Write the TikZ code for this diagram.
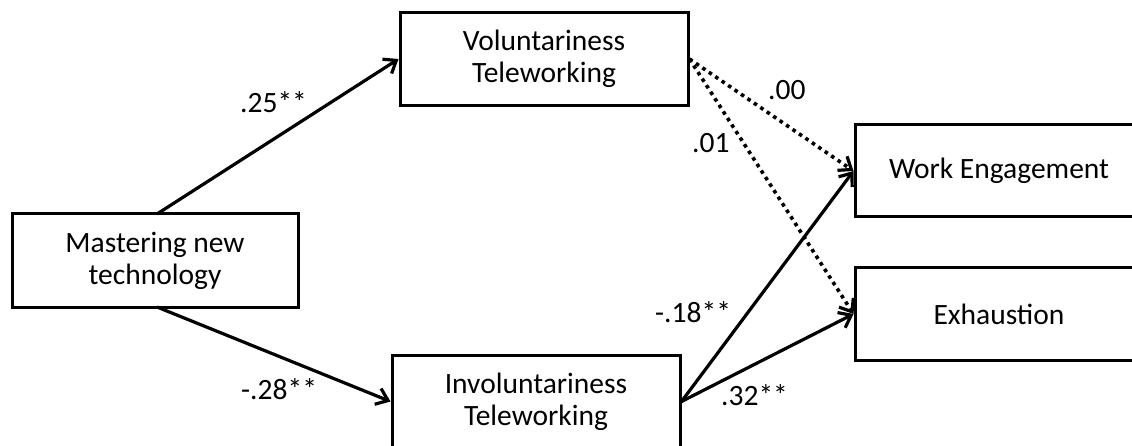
\documentclass[tikz,border=0pt]{standalone}
\usepackage{fontspec}
\setmainfont{Carlito}
\usetikzlibrary{arrows.meta}
\begin{document}
\begin{tikzpicture}[x=1pt,y=-1pt,
  box/.style={draw=black, line width=3pt, minimum width=288pt, minimum height=93pt,
    align=center, inner sep=0pt, font=\fontsize{29.5}{32}\selectfont},
  lbl/.style={anchor=base west, inner sep=0pt, font=\fontsize{29.5}{32}\selectfont},
  conn/.style={line width=3.2pt, -{Straight Barb[length=11pt,width=17pt,line width=3.2pt]}},
  dotconn/.style={line width=3.6pt, dash pattern=on 3.6pt off 4.2pt,
    -{Straight Barb[length=11pt,width=17pt,line width=3.2pt]}}]
\useasboundingbox (0,0) rectangle (1132,446);
\clip (0,0) rectangle (1132,446);
\node[box, minimum width=286pt] (m) at (155,260.5) {Mastering new\\technology};
\node[box] (v) at (544,59) {Voluntariness\\Teleworking};
\node[box] (i) at (536,401.5) {Involuntariness\\Teleworking};
\node[box, minimum height=92pt] (we) at (999,171) {Work Engagement};
\node[box, minimum height=92pt] (ex) at (999,314) {Exhaustion};
\coordinate (ms) at (157,214);
\coordinate (mt) at (157,307);
\draw[conn] (ms) -- (v.west);
\draw[conn] (mt) -- (i.west);
\draw[dotconn] (v.east) -- (we.west);
\draw[dotconn] (v.east) -- (ex.west);
\draw[conn] (i.east) -- (we.west);
\draw[conn] (i.east) -- (ex.west);
\node[lbl] (l1) at (240,113) {.25**};
\node[lbl] (l2) at (241,399) {-.28**};
\node[lbl] (l3) at (768,100) {.00};
\node[lbl] (l4) at (692,153) {.01};
\node[lbl] (l5) at (655,322) {-.18**};
\node[lbl] (l6) at (721,405) {.32**};
\end{tikzpicture}
\end{document}
